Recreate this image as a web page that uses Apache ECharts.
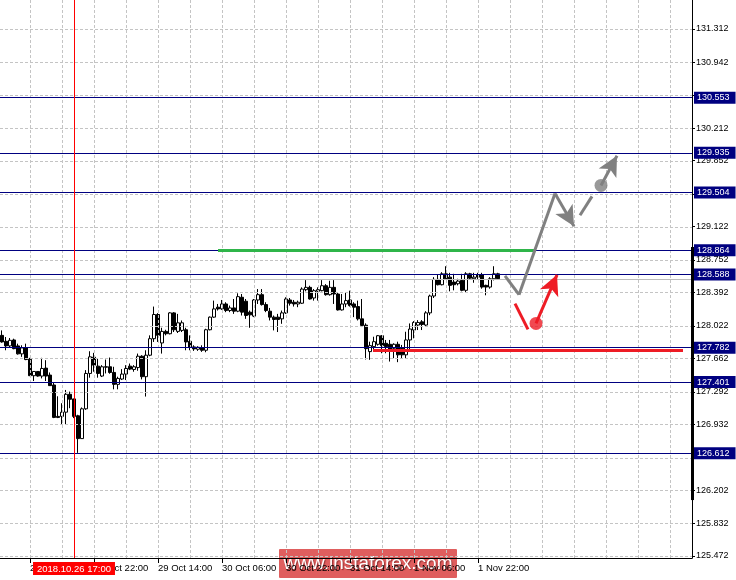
<!DOCTYPE html>
<html><head><meta charset="utf-8">
<script src="https://cdn.jsdelivr.net/npm/echarts@6/dist/echarts.min.js"></script>
<style>html,body{margin:0;padding:0;background:#fff}#c{width:736px;height:580px}</style>
</head><body><div id="c"></div>
<script>
// ---- data ----
const totalSlots = 173;               // hourly slots shown (bars + empty future space)
const timeLabels = ['26 Oct 06:00','26 Oct 22:00','29 Oct 14:00','30 Oct 06:00','30 Oct 22:00','31 Oct 14:00','1 Nov 06:00','1 Nov 22:00'];
const timeLabelIndex = [7,23,39,55,71,87,103,119];
const opens = [127.917,127.851,127.800,127.866,127.800,127.712,127.778,127.653,127.470,127.517,127.466,127.554,127.477,127.367,127.019,127.019,127.066,127.264,127.213,127.026,126.773,127.103,127.495,127.675,127.576,127.466,127.569,127.569,127.506,127.374,127.433,127.488,127.576,127.539,127.560,127.686,127.459,127.697,127.880,128.148,127.833,127.961,127.935,128.166,127.961,127.972,127.979,127.851,127.789,127.763,127.781,127.752,127.979,128.119,128.229,128.210,128.265,128.192,128.221,128.185,128.339,128.295,128.174,128.130,128.309,128.368,128.258,128.185,128.119,128.119,128.100,128.166,128.309,128.284,128.265,128.273,128.423,128.449,128.331,128.405,128.412,128.467,128.368,128.449,128.375,128.199,128.265,128.309,128.265,128.236,128.100,128.030,127.737,127.792,127.818,127.913,127.829,127.818,127.774,127.818,127.774,127.701,127.866,127.976,128.031,128.067,128.031,128.166,128.353,128.537,128.478,128.599,128.562,128.507,128.489,128.526,128.416,128.599,128.544,128.588,128.588,128.471,128.452,128.544,128.599];
const closes = [127.844,127.800,127.862,127.770,127.712,127.778,127.649,127.470,127.517,127.466,127.550,127.466,127.360,127.008,127.008,127.066,127.264,127.209,127.019,126.773,127.103,127.495,127.679,127.587,127.495,127.569,127.565,127.506,127.374,127.440,127.488,127.550,127.543,127.569,127.686,127.459,127.697,127.880,128.148,127.917,127.961,127.935,128.166,127.979,128.056,128.056,127.844,127.782,127.767,127.785,127.752,127.979,128.119,128.210,128.210,128.265,128.192,128.221,128.185,128.346,128.174,128.137,128.144,128.309,128.368,128.258,128.192,128.119,128.093,128.093,128.166,128.320,128.273,128.265,128.284,128.430,128.449,128.320,128.412,128.423,128.467,128.368,128.449,128.375,128.199,128.265,128.302,128.247,128.229,128.100,128.027,127.770,127.803,127.847,127.913,127.803,127.792,127.756,127.818,127.701,127.701,127.866,127.987,128.060,128.060,128.038,128.166,128.353,128.537,128.478,128.599,128.544,128.471,128.478,128.518,128.416,128.599,128.551,128.562,128.562,128.452,128.452,128.544,128.599,128.545];
const lows = [127.836,127.752,127.778,127.763,127.704,127.679,127.642,127.466,127.411,127.459,127.440,127.411,127.356,127.000,127.000,126.927,126.934,127.110,127.000,126.615,126.773,127.092,127.448,127.514,127.448,127.455,127.495,127.492,127.319,127.319,127.422,127.422,127.532,127.514,127.525,127.429,127.239,127.686,127.844,127.844,127.715,127.917,127.928,127.954,127.943,127.954,127.752,127.752,127.745,127.745,127.734,127.730,127.972,128.111,128.192,128.199,128.174,128.174,128.155,128.174,128.137,128.100,128.001,128.119,128.265,128.247,128.174,128.082,127.972,127.954,128.045,128.155,128.247,128.236,128.229,128.265,128.405,128.313,128.302,128.302,128.405,128.357,128.357,128.265,128.192,128.192,128.229,128.236,128.119,128.082,128.009,127.650,127.646,127.756,127.803,127.719,127.719,127.627,127.664,127.620,127.664,127.664,127.756,127.884,127.976,127.976,128.012,128.141,128.331,128.471,128.471,128.537,128.405,128.416,128.471,128.405,128.397,128.537,128.500,128.537,128.434,128.361,128.434,128.526,128.540];
const highs = [127.972,127.899,127.888,127.880,127.825,127.807,127.825,127.668,127.521,127.521,127.668,127.642,127.506,127.396,127.242,127.165,127.312,127.294,127.213,127.037,127.118,127.532,127.741,127.723,127.660,127.587,127.649,127.671,127.569,127.459,127.543,127.587,127.605,127.587,127.715,127.697,127.752,127.917,128.236,128.163,128.001,127.979,128.174,128.174,128.155,128.082,128.001,127.917,127.807,127.796,127.807,127.990,128.126,128.302,128.265,128.309,128.284,128.247,128.320,128.383,128.375,128.320,128.192,128.320,128.430,128.430,128.284,128.221,128.137,128.155,128.192,128.339,128.331,128.309,128.302,128.449,128.529,128.467,128.430,128.449,128.529,128.485,128.522,128.529,128.394,128.375,128.394,128.412,128.284,128.302,128.320,128.050,127.847,127.902,127.921,127.921,127.866,127.866,127.829,127.847,127.811,127.957,128.049,128.075,128.086,128.086,128.185,128.368,128.562,128.588,128.617,128.683,128.610,128.599,128.544,128.599,128.617,128.610,128.610,128.610,128.610,128.478,128.562,128.683,128.610];
const yTicks = [125.472,125.832,126.202,126.562,126.932,127.292,127.662,128.022,128.392,128.752,129.122,129.482,129.852,130.212,130.582,130.942,131.312];
const yTicksCovered = [126.562,129.482,130.582];
const levels = [130.553,129.935,129.504,128.864,128.588,127.782,127.401,126.612];
const bidPrice = 128.545;
const markedBar = 18, markedBarLabel = '2018.10.26 17:00';
const greenLevel = {from: 54, to: 133, price: 128.86};
const redLevel = {from: 92.75, to: 170.25, price: 127.752};
const scaleRange = {x: 172.5, from: 128.896, to: 126.092};
const greyPath = [[125.75,128.577],[129.25,128.368],[138.25,129.490]];
const greyArrowDown = [[138.25,129.490],[143,129.127]];
const greyStub = [[144.5,129.248],[147.5,129.457]];
const greyDot = [149.75,129.578];
const greyArrowUp = [[149.75,129.578],[153.75,129.908]];
const redStub = [[128.25,128.269],[131.5,127.983]];
const redDot = [133.5,128.049];
const redArrowUp = [[133.5,128.049],[138.75,128.588]];

// ---- build ----
const slots = Array.from({length: totalSlots}, (_, i) => String(i));
const labelAt = {};
timeLabelIndex.forEach((idx, k) => labelAt[idx] = timeLabels[k]);
const candleData = opens.map((o, i) => [o, closes[i], lows[i], highs[i]]);
const vGrid = [];
for (let i = 7; i < totalSlots; i += 8) vGrid.push({xAxis: i});
const FONT = 'Liberation Sans';
const GRID_STYLE = {color: '#c4c4c4', width: 1, type: [3, 2]};

const segs = [];
function seg(pts, color, width, arrow) {
  for (let k = 0; k < pts.length - 1; k++) {
    const last = k === pts.length - 2;
    segs.push([
      {coord: pts[k], symbol: 'none', lineStyle: {color, width, type: 'solid'}},
      {coord: pts[k + 1], symbol: (arrow && last) ? 'arrow' : 'none', symbolSize: [15, 20]}
    ]);
  }
}
seg(greyPath, '#808080', 3, false);
seg(greyArrowDown, '#808080', 3, true);
seg(greyStub, '#808080', 3, false);
seg(greyArrowUp, '#808080', 3, true);
seg(redStub, '#ee1c25', 3, false);
seg(redArrowUp, '#ee1c25', 3, true);
segs.unshift([
  {coord: [greenLevel.from, greenLevel.price], symbol: 'none', lineStyle: {color: '#2fb54a', width: 3, type: 'solid'}},
  {coord: [greenLevel.to, greenLevel.price], symbol: 'none'}
]);
segs.unshift([
  {coord: [redLevel.from, redLevel.price], symbol: 'none', lineStyle: {color: '#ee1c25', width: 3, type: 'solid'}},
  {coord: [redLevel.to, redLevel.price], symbol: 'none'}
]);
segs.unshift([
  {coord: [scaleRange.x, scaleRange.from], symbol: 'none', lineStyle: {color: '#000', width: 3, type: 'solid'}},
  {coord: [scaleRange.x, scaleRange.to], symbol: 'none'}
]);

const chart = echarts.init(document.getElementById('c'), null, {renderer: 'canvas'});
chart.setOption({
  animation: false,
  backgroundColor: '#ffffff',
  grid: {left: 0, right: 44, top: 0, bottom: 22, show: false},
  xAxis: [{
    type: 'category', data: slots, boundaryGap: true,
    axisLine: {show: true, onZero: false, lineStyle: {color: '#000', width: 1}},
    axisTick: {show: true, alignWithLabel: true, length: 5, interval: (i) => labelAt[i] !== undefined, lineStyle: {color: '#000'}},
    axisLabel: {show: true, interval: (i) => labelAt[i] !== undefined, formatter: (v, i) => labelAt[i] || '',
      align: 'left', color: '#000', fontSize: 9.5, fontFamily: FONT, margin: 5, padding: [0, 0, 0, 0]},
    splitLine: {show: false}
  }, {
    type: 'value', min: -0.5, max: totalSlots - 0.5, show: false
  }],
  yAxis: [{
    type: 'value', position: 'right', min: 125.450, max: 131.633,
    axisLine: {show: true, onZero: false, lineStyle: {color: '#000', width: 1}},
    axisTick: {show: true, length: 3, customValues: yTicks, lineStyle: {color: '#000'}},
    axisLabel: {show: true, customValues: yTicks.filter(v => !yTicksCovered.includes(v)),
      formatter: (v) => v.toFixed(3), color: '#000', fontSize: 9, fontFamily: FONT, margin: 4},
    splitLine: {show: false}
  }],
  series: [
    { // background grid
      type: 'line', data: [], z: 1, silent: true,
      markLine: {silent: true, symbol: 'none', animation: false, label: {show: false},
        lineStyle: GRID_STYLE,
        data: yTicks.map(v => ({yAxis: v})).concat(vGrid)}
    },
    { // candles
      type: 'candlestick', data: candleData, z: 3, barWidth: 3,
      itemStyle: {color: '#ffffff', color0: '#000000', borderColor: '#000000', borderColor0: '#000000', borderWidth: 1}
    },
    { // horizontal levels, bid line, time marker
      type: 'line', data: [], z: 4, silent: true,
      markLine: {silent: true, symbol: 'none', animation: false,
        data: levels.map(v => ({yAxis: v,
          lineStyle: {color: '#000080', width: 1, type: 'solid'},
          label: {show: true, position: 'end', distance: 2, formatter: v.toFixed(3), color: '#fff',
            backgroundColor: '#000080', padding: [2, 6, 1, 3], fontSize: 9, fontFamily: FONT}}))
          .concat([
            {yAxis: bidPrice, lineStyle: {color: '#bcbcbc', width: 1, type: 'solid'}, label: {show: false}},
            {xAxis: markedBar, lineStyle: {color: '#ff0000', width: 1, type: 'solid'},
              label: {show: true, position: 'start', distance: 4, formatter: markedBarLabel, color: '#fff',
                backgroundColor: '#ff0000', padding: [2, 4, 1, 4], fontSize: 9.5, fontFamily: FONT}}
          ])}
    },
    { // drawn objects
      type: 'line', xAxisIndex: 1, data: [], z: 6, silent: true, clip: false,
      markLine: {silent: true, animation: false, label: {show: false}, symbol: ['none', 'none'], data: segs}
    },
    {type: 'scatter', xAxisIndex: 1, z: 7, silent: true, symbol: 'circle', symbolSize: 13,
      itemStyle: {color: '#808080'}, data: [greyDot]},
    {type: 'scatter', xAxisIndex: 1, z: 7, silent: true, symbol: 'circle', symbolSize: 13,
      itemStyle: {color: '#ee1c25'}, data: [redDot]}
  ],
  graphic: [{
    type: 'group', left: 279, top: 549, z: 100,
    children: [
      {type: 'rect', shape: {x: 0, y: 0, width: 178, height: 29, r: 1}, style: {fill: 'rgba(212,38,38,0.74)'}},
      {type: 'text', style: {x: 89, y: 15, text: 'www.instaforex.com', fill: '#ffffff', font: '19px "Liberation Sans"',
        textAlign: 'center', textVerticalAlign: 'middle', textShadowColor: 'rgba(90,20,20,0.6)', textShadowBlur: 1, textShadowOffsetX: 1, textShadowOffsetY: 1}}
    ]
  }]
});
</script></body></html>
